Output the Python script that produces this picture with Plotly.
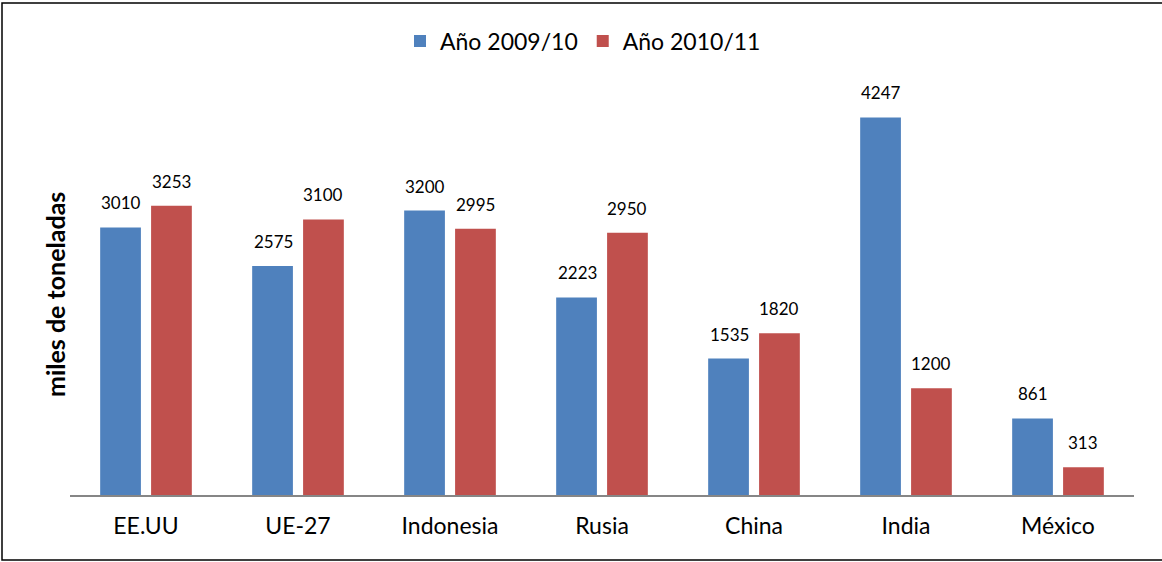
import plotly.graph_objects as go

paises = ["EE.UU", "UE-27", "Indonesia", "Rusia", "China", "India", "México"]
anio_2009_10 = [3010, 2575, 3200, 2223, 1535, 4247, 861]
anio_2010_11 = [3253, 3100, 2995, 2950, 1820, 1200, 313]
series = [("Año 2009/10", anio_2009_10, "#4F81BD", -25),
          ("Año 2010/11", anio_2010_11, "#C0504D", 25)]

W, H = 1162, 562
ml, mr, mt, mb = 70, 28, 95, 67
FONT = "Lato"

fig = go.Figure()
for nombre, valores, color, _ in series:
    fig.add_trace(go.Bar(x=paises, y=valores, name=nombre,
                         marker=dict(color=color, line=dict(width=0))))

# etiquetas de datos encima de cada barra
for nombre, valores, color, dx in series:
    for p, v in zip(paises, valores):
        fig.add_annotation(x=p, y=v, text=str(v), showarrow=False,
                           xshift=dx, yshift=12, yanchor="bottom",
                           font=dict(size=17, color="black", family=FONT))

# título del eje y
fig.add_annotation(x=0, y=0.5, xref="paper", yref="paper", xshift=-15,
                   text="<b>miles de toneladas</b>", textangle=-90, showarrow=False,
                   xanchor="center", yanchor="middle",
                   font=dict(size=25, color="black", family=FONT))

pw, ph = W - ml - mr, H - mt - mb
fig.add_shape(type="rect", xref="paper", yref="paper",
              x0=-(ml - 2) / pw, x1=1 + (mr + 3) / pw,
              y0=-(mb - 2) / ph, y1=1 + (mt - 3) / ph,
              line=dict(color="black", width=1.5), fillcolor="rgba(0,0,0,0)")

fig.update_layout(
    width=W, height=H,
    margin=dict(l=ml, r=mr, t=mt, b=mb, autoexpand=False),
    paper_bgcolor="white", plot_bgcolor="white",
    barmode="group", bargap=0.33, bargroupgap=0.2,
    font=dict(family=FONT, color="black"),
    legend=dict(orientation="h", x=(583 - ml) / pw, xanchor="center", y=1.135, yanchor="middle",
                font=dict(size=23), itemwidth=30, tracegroupgap=0),
    xaxis=dict(showline=True, linecolor="#868686", linewidth=1.5, ticks="",
               tickfont=dict(size=23), showgrid=False, ticklabelstandoff=10),
    yaxis=dict(range=[0, 4500], showticklabels=False, showgrid=False, zeroline=False,
               showline=False, ticks=""),
)
# sin margen del body, para que el gráfico empiece en (0, 0)
fig.write_html("out.html", config={"displayModeBar": False},
               post_script="document.body.style.margin = '0';")
